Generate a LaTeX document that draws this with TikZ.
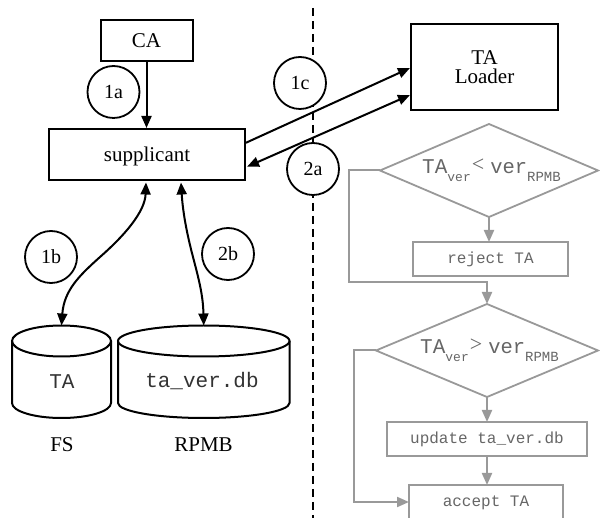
\documentclass[tikz,border=0pt]{standalone}
\usepackage{fontspec}
\setmainfont{Liberation Serif}
\setmonofont{Liberation Mono}
\usetikzlibrary{arrows.meta,calc,shapes.geometric}
\definecolor{flow}{HTML}{999999}
\newcommand{\fs}[1]{\fontsize{#1}{#1}\selectfont}
\newcommand{\cond}[1]{\ttfamily\hspace{5pt}\raisebox{2pt}{\fs{21}TA\raisebox{-8pt}{\fs{13}ver}\hspace{1pt}\raisebox{2pt}{\fs{22}\rmfamily#1}\hspace{6pt}\fs{20.5}ver\raisebox{-8pt}{\fs{14}RPMB}}}
\tikzset{
  x=1pt,y=-1pt,
  every node/.style={inner sep=0pt,outer sep=0pt},
  blackbox/.style={draw=black,line width=2pt,rectangle,align=center,font=\fs{21}},
  stepnum/.style={draw=black,line width=1.8pt,circle,fill=white,minimum size=52pt,font=\fs{20}},
  grayline/.style={draw=flow,line width=2pt},
  grayarrow/.style={grayline,-{Triangle[length=12pt,width=10pt]}},
  grayrect/.style={draw=flow,line width=2pt,rectangle,font=\ttfamily\fs{16},text=black!60},
  decision/.style={draw=flow,line width=1.8pt,diamond,text=black!60},
  link/.style={draw=black,line width=2pt,-{Triangle[length=12pt,width=10pt]}},
  dlink/.style={draw=black,line width=2pt,{Triangle[length=12pt,width=10pt]}-{Triangle[length=12pt,width=10pt]}},
  dbase/.style={draw=black,line width=2pt},
  dbtext/.style={font=\ttfamily\fs{21},text=black!80},
  caption/.style={font=\fs{21}},
}
\begin{document}
\begin{tikzpicture}
\useasboundingbox (0,0) rectangle (600,518);
\clip (0,0) rectangle (600,518);
\coordinate (dtop) at (312.5,8);
\coordinate (dbot) at (312.5,518);
\draw[line width=2pt,dash pattern=on 8pt off 5pt] (dtop) -- (dbot);

\node[blackbox,minimum width=92pt,minimum height=41.5pt] (ca) at (146.5,40.75) {CA};
\node[blackbox,minimum width=196pt,minimum height=51.5pt,text height=19.5pt,text depth=5pt] (sup) at (147,154.75) {supplicant};
\node[blackbox,minimum width=147pt,minimum height=86pt] (loader) at (484.5,67) {TA\\[-2pt]Loader};

\node[stepnum] (s1a) at (113.5,92) {1a};
\node[stepnum] (s1b) at (51,257) {1b};
\node[stepnum] (s1c) at (300,83) {1c};
\node[stepnum] (s2a) at (313,169) {2a};
\node[stepnum] (s2b) at (228,254) {2b};

% cylinders
\draw[dbase] (61.5,341) ellipse[x radius=49.5pt,y radius=15.5pt];
\draw[dbase] (12,341) -- (12,403) arc[start angle=180,end angle=360,x radius=49.5pt,y radius=15pt] -- (111,341);
\draw[dbase] (203.75,341) ellipse[x radius=85.75pt,y radius=15.5pt];
\draw[dbase] (118,341) -- (118,403) arc[start angle=180,end angle=360,x radius=85.75pt,y radius=15pt] -- (289.5,341);
\coordinate (fstop) at (61.5,325.5);
\coordinate (rpmbtop) at (203.75,325.5);
\node[dbtext] (fstext) at (62,381.5) {TA};
\node[dbtext] (rpmbtext) at (202,381.5) {ta\_ver.db};
\node[caption] (fscap) at (62,445) {FS};
\node[caption] (rpmbcap) at (203.5,445) {RPMB};

\draw[link] (ca.south) -- ($(sup.north)+(-0.5,-1)$);
\draw[link] ($(sup.east)+(1,-12)$) -- ($(loader.west)+(-1,1)$);
\draw[dlink] ($(sup.east)+(2,12)$) -- ($(loader.west)+(-1,28)$);
\coordinate (j1) at (100,257);
\coordinate (j2) at (193,257);
\draw[dlink] ($(sup.south)+(-1,2)$) .. controls (145,212) and (124,236) .. (j1) .. controls (80,275) and (64,290) .. (fstop);
\draw[dlink] ($(sup.south)+(34,2)$) .. controls (183,215) and (188,238) .. (j2) .. controls (199,280) and (203,295) .. (rpmbtop);

\node[decision,minimum width=218pt,minimum height=93pt,shape aspect=2.34] (d1) at (489,170.5) {\cond{<}};
\node[grayrect,minimum width=155pt,minimum height=34pt] (reject) at (490.5,259) {reject TA};
\node[decision,minimum width=222pt,minimum height=93pt,shape aspect=2.39] (d2) at (487,350.5) {\cond{>}};
\node[grayrect,minimum width=200pt,minimum height=34pt] (update) at (487,439) {update ta\_ver.db};
\node[grayrect,minimum width=154pt,minimum height=36pt] (accept) at (486,503) {accept TA};

\draw[grayarrow] (d1.south) -- (d1.south |- reject.north);
\coordinate (c1) at (349,282);
\draw[grayarrow] (d1.west) -| (c1) -| (d2.north);
\draw[grayarrow] (d2.south) -- (update.north);
\draw[grayarrow] (update.south) -- (update.south |- accept.north);
\coordinate (c2) at (354,502);
\draw[grayarrow] (d2.west) -| (c2) -- (c2 -| accept.west);
\end{tikzpicture}
\end{document}
